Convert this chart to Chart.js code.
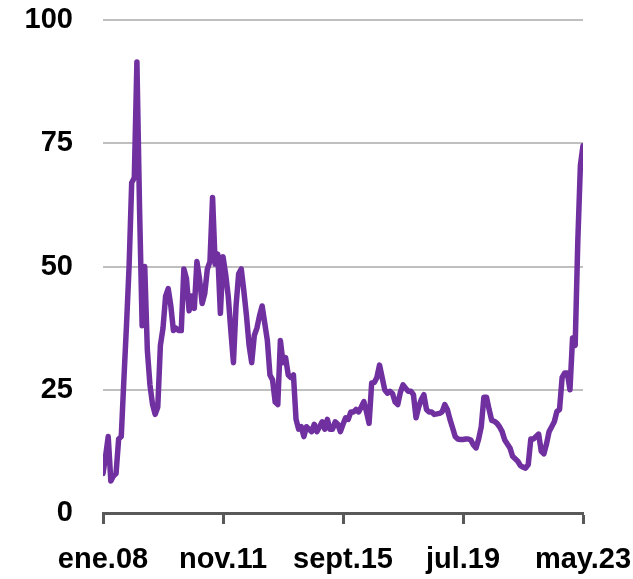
<!DOCTYPE html>
<html>
<head>
<meta charset="utf-8">
<script src="https://cdn.jsdelivr.net/npm/chart.js@4/dist/chart.umd.min.js"></script>
<style>
    html, body { margin: 0; padding: 0; background: #ffffff; }
    #wrap { width: 633px; height: 579px; }
</style>
</head>
<body>
<div id="wrap"><canvas id="chart" width="633" height="579"></canvas></div>
<script>
// Monthly series, ene.08 .. may.23 (185 months)
const values = [
    8, 11.5, 15.5, 6.5, 7.5, 8, 15, 15.5, 27, 38,
    50, 67, 68, 91.5, 62, 38, 50, 33, 26, 22,
    20, 21.5, 34, 37.5, 44, 45.5, 42, 37, 37.5, 37,
    37, 49.5, 47.5, 41, 44, 41.5, 51, 47.5, 42.5, 44.5,
    49.5, 51, 64, 50.5, 52.5, 40.5, 52, 48.5, 44, 37,
    30.5, 42, 48.5, 49.5, 45, 40, 34, 30.5, 36, 37.5,
    40, 42, 38.5, 35, 28, 27, 22.5, 22, 35, 30.5,
    31.5, 28, 27.5, 28, 19, 17, 17.5, 15.5, 17.5, 17,
    16.5, 18, 16.5, 17.5, 18.5, 17, 19, 17, 17, 18.5,
    18, 16.5, 18, 19.3, 19, 20.5, 20.5, 21, 20.5, 21.5,
    22.6, 20.5, 18.2, 26.4, 26.5, 27.5, 30, 27.5, 25, 24.3,
    24.7, 24.2, 22.5, 22, 24.5, 26, 25.3, 24.7, 24.7, 24,
    19.3, 21.5, 23, 24, 21, 20.5, 20.5, 20, 20.1, 20.2,
    20.5, 22, 21, 19, 17.3, 15.5, 15, 14.9, 14.9, 15,
    15, 14.8, 13.8, 13.2, 15, 17.5, 23.5, 23.5, 21, 18.8,
    18.6, 18.2, 17.5, 16.5, 14.8, 14, 13.2, 11.5, 11, 10.5,
    9.6, 9.3, 9.1, 9.8, 15, 15, 15.5, 16, 12.5, 12,
    14, 16.5, 17.5, 18.5, 20.6, 21, 27.5, 28.4, 28.4, 25,
    35.5, 34, 55, 70.5, 74.5,
];
const xTickLabels = ['ene.08', 'nov.11', 'sept.15', 'jul.19', 'may.23'];
const xTickStep = 46;
const yTicks = [0, 25, 50, 75, 100];

const lineColor = '#7030A0';
const gridColor = '#BFBFBF';
const axisColor = '#595959';
const labelFont = {
    family: '"Liberation Sans", Arial, sans-serif',
    size: 29,
    weight: 'bold',
    lineHeight: 1.2,
};

const points = values.map((v, i) => ({x: i, y: v}));

new Chart(document.getElementById('chart').getContext('2d'), {
    type: 'line',
    data: {
        datasets: [{
            data: points,
            borderColor: lineColor,
            borderWidth: 5.5,
            borderJoinStyle: 'round',
            borderCapStyle: 'round',
            pointRadius: 0,
            hoverRadius: 0,
            tension: 0,
            fill: false,
        }],
    },
    options: {
        responsive: false,
        animation: false,
        devicePixelRatio: 1,
        layout: {
            padding: {top: 20, right: 50, bottom: 0, left: 0},
        },
        plugins: {
            legend: {display: false},
            tooltip: {enabled: false},
        },
        scales: {
            x: {
                type: 'linear',
                min: 0,
                max: values.length - 1,
                afterBuildTicks: (scale) => {
                    scale.ticks = xTickLabels.map((_, i) => ({value: i * xTickStep}));
                },
                afterFit: (scale) => {
                    // keep the plot box fixed, labels may overhang
                    scale.height = 579 - 513;
                    scale.paddingLeft = 0;
                    scale.paddingRight = 0;
                },
                ticks: {
                    autoSkip: false,
                    maxRotation: 0,
                    padding: 19,
                    color: '#000000',
                    font: labelFont,
                    callback: (v) => xTickLabels[Math.round(v / xTickStep)],
                },
                grid: {
                    drawOnChartArea: false,
                    drawTicks: true,
                    tickLength: 11,
                    tickWidth: 3,
                    tickColor: axisColor,
                },
                border: {
                    display: true,
                    color: axisColor,
                    width: 3,
                },
            },
            y: {
                min: 0,
                max: 100,
                afterBuildTicks: (scale) => {
                    scale.ticks = yTicks.map((v) => ({value: v}));
                },
                afterFit: (scale) => {
                    scale.width = 103;
                    scale.paddingTop = 0;
                    scale.paddingBottom = 0;
                },
                ticks: {
                    padding: 30,
                    color: '#000000',
                    font: labelFont,
                },
                grid: {
                    color: gridColor,
                    lineWidth: 2,
                    drawTicks: false,
                },
                border: {display: false},
            },
        },
    },
});
</script>
</body>
</html>
